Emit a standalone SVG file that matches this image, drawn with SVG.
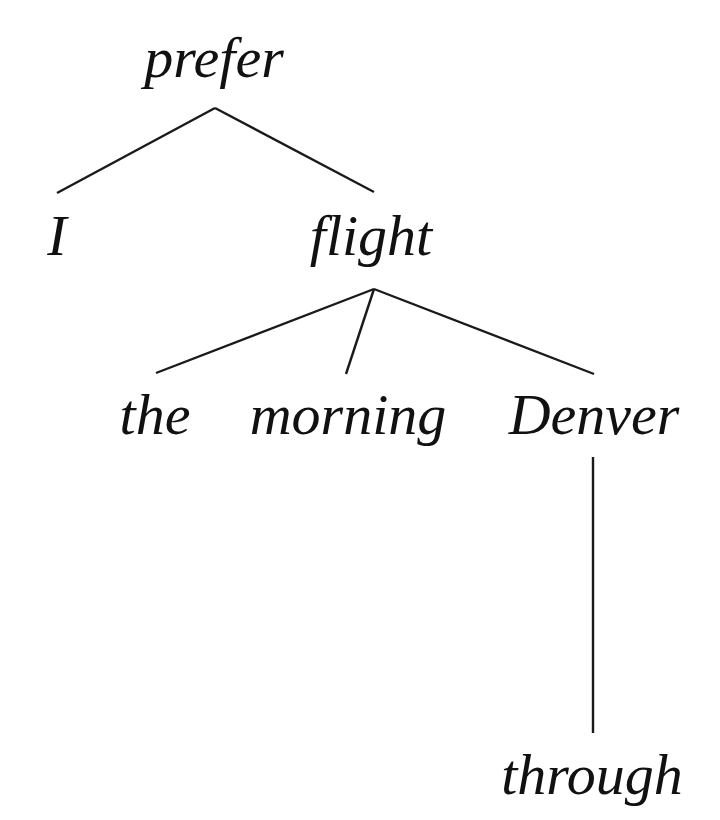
<svg xmlns="http://www.w3.org/2000/svg" width="720" height="820" viewBox="0 0 720 820">
<style>
.w{font-family:"Liberation Serif","Times New Roman",serif;font-style:italic;font-size:58px;fill:#111;text-anchor:middle}
.c line{stroke:#1a1a1a;stroke-width:2.4;stroke-linecap:butt}
</style>
<rect width="720" height="820" fill="#fff"/>
<g class="c" id="connectors">
<line x1="215" y1="108" x2="57" y2="193"/>
<line x1="215" y1="108" x2="374" y2="192"/>
<line x1="374" y1="289" x2="156" y2="373"/>
<line x1="374" y1="289" x2="346" y2="374"/>
<line x1="374" y1="289" x2="594" y2="374"/>
<line x1="593" y1="457" x2="593" y2="733"/>
</g>
<g id="prefer"><text class="w" x="214" y="77">prefer</text></g>
<g id="I"><text class="w" x="57" y="255">I</text></g>
<g id="flight"><text class="w" x="371" y="255">flight</text></g>
<g id="the"><text class="w" x="155" y="434">the</text></g>
<g id="morning"><text class="w" x="348" y="434">morning</text></g>
<g id="Denver"><text class="w" x="594" y="434">Denver</text></g>
<g id="through"><text class="w" x="592" y="794">through</text></g>
</svg>
